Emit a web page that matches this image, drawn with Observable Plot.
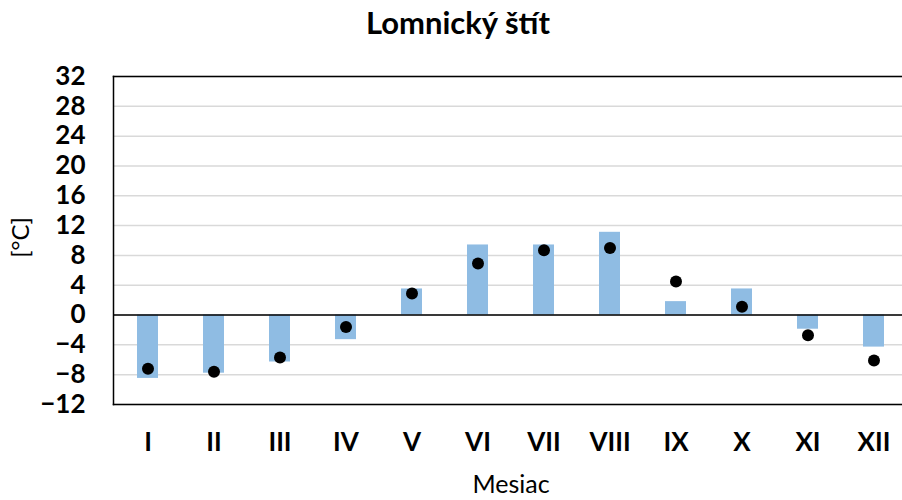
<!DOCTYPE html>
<html>
<head>
<meta charset="utf-8">
<script src="https://cdn.jsdelivr.net/npm/d3@7"></script>
<script src="https://cdn.jsdelivr.net/npm/@observablehq/plot@0.6"></script>
<style>
  body { margin: 0; background: white; }
</style>
</head>
<body>
<div id="chart"></div>
<script>
const months = ["I", "II", "III", "IV", "V", "VI", "VII", "VIII", "IX", "X", "XI", "XII"];
const barValues = [-8.5, -7.8, -6.3, -3.3, 3.5, 9.4, 9.4, 11.1, 1.8, 3.5, -1.9, -4.3];
const dotValues = [-7.2, -7.6, -5.7, -1.6, 2.9, 6.9, 8.7, 9.0, 4.5, 1.1, -2.7, -6.1];
const yTicks = [-12, -8, -4, 0, 4, 8, 12, 16, 20, 24, 28, 32];
const titleText = "Lomnický štít";
const xLabel = "Mesiac";
const yLabel = "[°C]";

const data = months.map((m, i) => ({m, bar: barValues[i], dot: dotValues[i]}));

const chart = Plot.plot({
  width: 902,
  height: 500,
  marginTop: 76,
  marginBottom: 96,
  marginLeft: 113,
  marginRight: -6,
  style: {fontFamily: "Lato, 'Open Sans', sans-serif", background: "white", color: "black"},
  x: {domain: months, paddingInner: 0.68, paddingOuter: 0.34},
  y: {domain: [-12, 32]},
  marks: [
    Plot.gridY(yTicks, {stroke: "#d9d9d9", strokeOpacity: 1, strokeWidth: 1.5}),
    Plot.barY(data, {x: "m", y: "bar", fill: "#8fbce3"}),
    Plot.ruleY([0], {stroke: "black", strokeWidth: 1.5}),
    Plot.dot(data, {x: "m", y: "dot", r: 6, fill: "black", stroke: "none"}),
    Plot.frame({anchor: "left", stroke: "black", strokeWidth: 1.5}),
    Plot.frame({anchor: "top", stroke: "black", strokeWidth: 1.5}),
    Plot.frame({anchor: "bottom", stroke: "black", strokeWidth: 1.5}),
    Plot.axisY(yTicks, {
      tickSize: 0, tickPadding: 28, fontSize: 26, fontWeight: "bold",
      label: null
    }),
    Plot.axisX({
      tickSize: 0, tickPadding: 28, fontSize: 26, fontWeight: "bold",
      label: null
    }),
    Plot.text([yLabel], {frameAnchor: "left", textAnchor: "middle", dx: -92, dy: -3, rotate: -90, fontSize: 24, fill: "black"}),
    Plot.text([xLabel], {frameAnchor: "bottom", dy: 88, fontSize: 25, fill: "black"}),
    Plot.text([titleText], {frameAnchor: "top", dx: -53, dy: -65, fontSize: 31, fontWeight: "bold", fill: "black"})
  ]
});
document.getElementById("chart").appendChild(chart);
</script>
</body>
</html>
